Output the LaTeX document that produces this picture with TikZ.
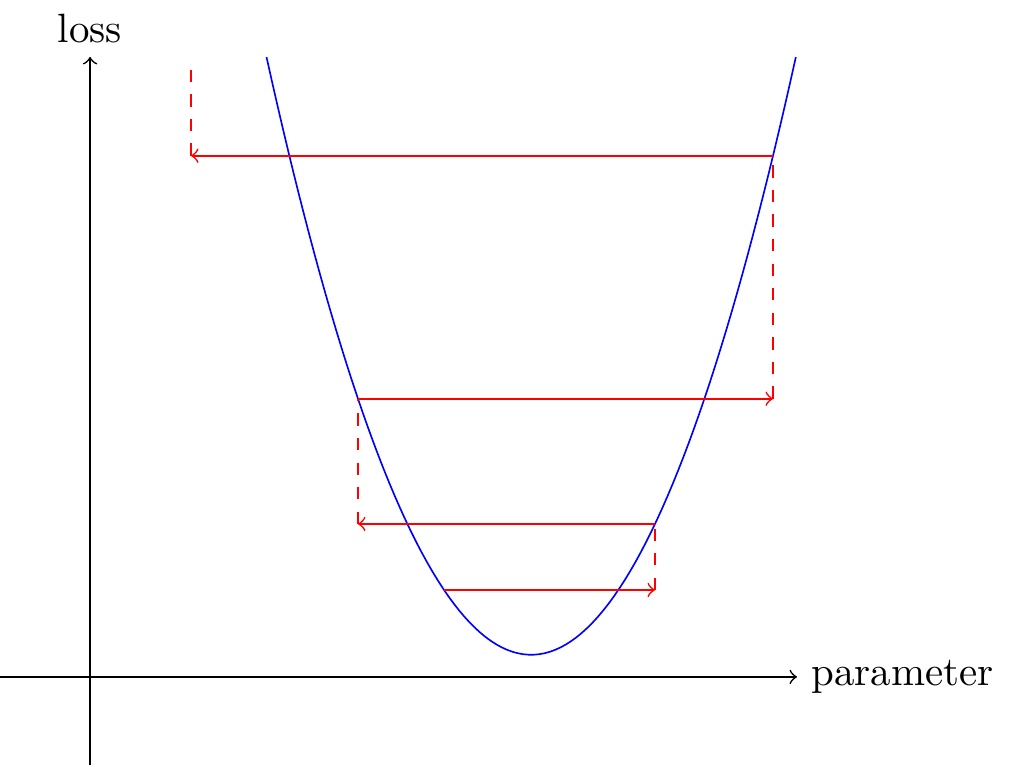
\documentclass[tikz,border=0pt]{standalone}
\usetikzlibrary{positioning}

\tikzset{
    declare function={loss(\x)=0.994*(\x-3.787)*(\x-3.787)+0.19;},
    axis/.style={->},
    curve/.style={blue},
    jump/.style={red, ->},
    drop/.style={red, dashed}
}

\begin{document}
\begin{tikzpicture}
    \useasboundingbox (-0.773,-0.773) rectangle (7.906,5.811);

    % Axes
    \coordinate (xstart) at (-0.773,0);
    \coordinate (xend) at (6.069,0);
    \coordinate (ystart) at (0,-0.755);
    \coordinate (yend) at (0,5.322);
    \draw[axis] (xstart) -- (xend);
    \draw[axis] (ystart) -- (yend);
    \node[right] (xlabel) at (xend) {parameter};
    \node[above] (ylabel) at (yend) {loss};

    % Courbe
    \draw[curve, domain=1.515:6.059, samples=100] plot (\x, {loss(\x)});

    % Points
    \coordinate (p1) at (3.039, {loss(3.039)});
    \coordinate (q1) at (4.850, {loss(3.039)});
    \coordinate (p2) at (4.850, {loss(4.850)});
    \coordinate (q2) at (2.300, {loss(4.850)});
    \coordinate (p3) at (2.300, {loss(2.300)});
    \coordinate (q3) at (5.863, {loss(2.300)});
    \coordinate (p4) at (5.863, {loss(5.863)});
    \coordinate (q4) at (0.867, {loss(5.863)});
    \coordinate (p5) at (0.867, 5.227);

    % Pas
    \draw[jump] (p1) -- (q1);
    \draw[drop] (q1) -- (p2);
    \draw[jump] (p2) -- (q2);
    \draw[drop] (q2) -- (p3);
    \draw[jump] (p3) -- (q3);
    \draw[drop] (q3) -- (p4);
    \draw[jump] (p4) -- (q4);
    \draw[drop] (q4) -- (p5);

\end{tikzpicture}
\end{document}
